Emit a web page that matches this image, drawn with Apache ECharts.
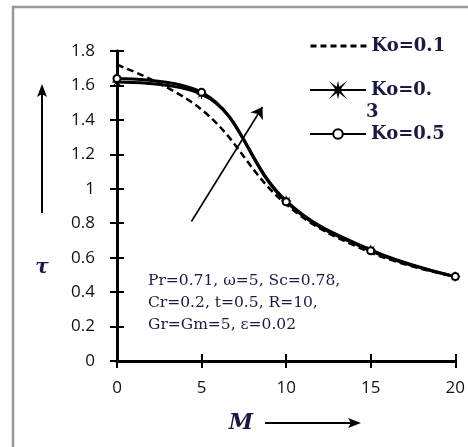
<!DOCTYPE html>
<html>
<head>
<meta charset="utf-8">
<script src="https://cdn.jsdelivr.net/npm/echarts@6/dist/echarts.min.js"></script>
<style>html,body{margin:0;padding:0;background:#fff;overflow:hidden;}#c{width:468px;height:447px;}</style>
</head>
<body>
<div id="c"></div>
<script>
const mValues = [0, 5, 10, 15, 20];
const ko01 = [1.72, 1.46, 0.91, 0.63, 0.49];
const ko03 = [1.62, 1.55, 0.93, 0.645, 0.49];
const ko05 = [1.64, 1.56, 0.925, 0.64, 0.49];
const seriesNames = ['Ko=0.1', 'Ko=0.3', 'Ko=0.5'];
const paramLines = ['Pr=0.71, ω=5, Sc=0.78,', 'Cr=0.2, t=0.5, R=10,', 'Gr=Gm=5, ε=0.02'];
const arrowFrom = [4.4, 0.81];
const arrowTo = [8.6, 1.475];

const pairs = arr => mValues.map((m, i) => [m, arr[i]]);
const star = 'path://M0,-6L1,-1.7L4.2,-4.2L1.7,-1L6,0L1.7,1L4.2,4.2L1,1.7L0,6L-1,1.7L-4.2,4.2L-1.7,1L-6,0L-1.7,-1L-4.2,-4.2L-1,-1.7Z';

const chart = echarts.init(document.getElementById('c'), null, {renderer: 'canvas'});
const legendText = {fontFamily: 'DejaVu Serif', fontWeight: 'bold', fontSize: 18, color: '#1a1a40', lineHeight: 20};
const tickLabel = {fontFamily: 'Open Sans', fontSize: 17, color: '#111'};

chart.setOption({
  animation: false,
  backgroundColor: '#fff',
  grid: {left: 117, top: 51, width: 339, height: 310, containLabel: false},
  xAxis: [
    {type: 'value', min: 0, max: 20, interval: 5,
     axisLine: {show: true, onZero: false, lineStyle: {color: '#000', width: 3}},
     axisTick: {show: true, inside: false, length: 7, lineStyle: {color: '#000', width: 2}},
     axisLabel: Object.assign({margin: 19}, tickLabel),
     splitLine: {show: false}},
    {type: 'value', min: 0, max: 20, interval: 5, position: 'bottom',
     axisLine: {show: true, onZero: false, lineStyle: {color: '#000', width: 3}},
     axisTick: {show: true, inside: true, length: 7, lineStyle: {color: '#000', width: 2}},
     axisLabel: {show: false}, splitLine: {show: false}}
  ],
  yAxis: [
    {type: 'value', min: 0, max: 1.8, interval: 0.2,
     axisLine: {show: true, onZero: false, lineStyle: {color: '#000', width: 3}},
     axisTick: {show: true, inside: false, length: 7, lineStyle: {color: '#000', width: 2}},
     axisLabel: Object.assign({margin: 22, formatter: v => String(+v.toFixed(1))}, tickLabel),
     splitLine: {show: false}},
    {type: 'value', min: 0, max: 1.8, interval: 0.2, position: 'left',
     axisLine: {show: true, onZero: false, lineStyle: {color: '#000', width: 3}},
     axisTick: {show: true, inside: true, length: 7, lineStyle: {color: '#000', width: 2}},
     axisLabel: {show: false}, splitLine: {show: false}}
  ],
  legend: [
    {data: [seriesNames[0]], left: 304, top: 31, itemWidth: 56, itemHeight: 12, textStyle: legendText, selectedMode: false,
     itemStyle: {opacity: 0}, lineStyle: {width: 3, type: [6, 4]}},
    {data: [seriesNames[1]], left: 304, top: 75, itemWidth: 56, itemHeight: 12, textStyle: legendText, selectedMode: false,
     formatter: () => 'Ko=0.'},
    {data: [seriesNames[2]], left: 304, top: 119, itemWidth: 56, itemHeight: 12, textStyle: legendText, selectedMode: false}
  ],
  series: [
    {name: seriesNames[0], type: 'line', smooth: 0.4, data: pairs(ko01), symbol: 'none',
     lineStyle: {color: '#000', width: 2.5, type: [7, 4]}, itemStyle: {color: '#000'}, z: 3,
     markLine: {silent: true, symbol: ['none', 'arrow'], symbolSize: 11, label: {show: false},
       lineStyle: {color: '#000', width: 1.6, type: 'solid'},
       data: [[{coord: arrowFrom}, {coord: arrowTo}]]}},
    {name: seriesNames[1], type: 'line', smooth: 0.4, data: pairs(ko03), symbol: star, symbolSize: 10,
     lineStyle: {color: '#000', width: 3}, itemStyle: {color: '#000', borderColor: '#000', borderWidth: 0.5}, z: 4},
    {name: seriesNames[2], type: 'line', smooth: 0.4, data: pairs(ko05), symbol: 'emptyCircle', symbolSize: 7,
     lineStyle: {color: '#000', width: 3}, itemStyle: {color: '#000', borderColor: '#000', borderWidth: 1.5}, z: 5}
  ],
  graphic: [
    {type: 'rect', shape: {x: 13, y: 7, width: 700, height: 700}, style: {fill: 'none', stroke: '#999', lineWidth: 2.5}, silent: true},
    {type: 'text', left: 366, top: 103, style: {text: '3', font: 'bold 18px "DejaVu Serif"', fill: '#1a1a40'}},
    {type: 'text', left: 148, top: 270, style: {text: paramLines.join('\n'), font: '15.5px "DejaVu Serif"', lineHeight: 22, fill: '#1a1a40'}},
    {type: 'text', x: 42, y: 268, style: {text: 'τ', font: 'italic bold 20px "DejaVu Serif"', fill: '#1a1a40', align: 'center', verticalAlign: 'middle'}},
    {type: 'line', shape: {x1: 42, y1: 213, x2: 42, y2: 94}, style: {stroke: '#000', lineWidth: 2}},
    {type: 'polygon', shape: {points: [[42, 84], [37, 97], [42, 94], [47, 97]]}, style: {fill: '#000'}},
    {type: 'text', x: 241, y: 423, style: {text: 'M', font: 'italic bold 22px "DejaVu Serif"', fill: '#1a1a40', align: 'center', verticalAlign: 'middle'}},
    {type: 'line', shape: {x1: 265, y1: 423, x2: 352, y2: 423}, style: {stroke: '#000', lineWidth: 2}},
    {type: 'polygon', shape: {points: [[361, 423], [348, 418], [351, 423], [348, 428]]}, style: {fill: '#000'}}
  ]
});
</script>
</body>
</html>
